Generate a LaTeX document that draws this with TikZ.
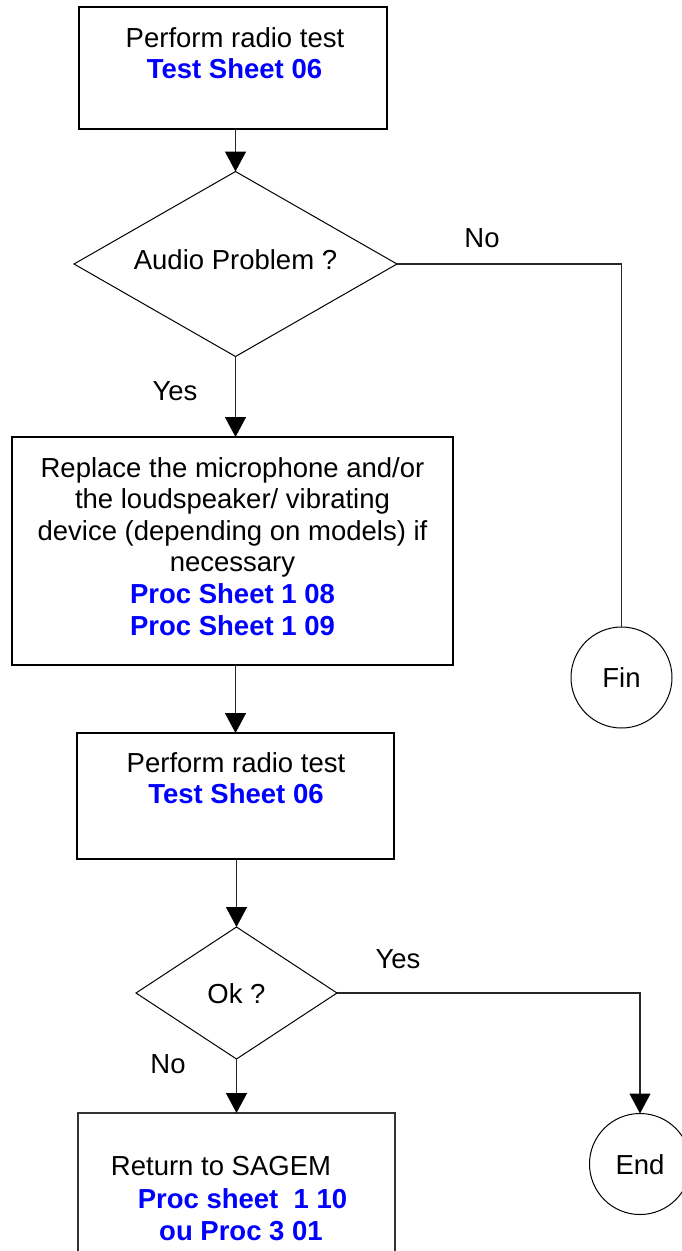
\documentclass[tikz,border=0pt]{standalone}
\usepackage{fontspec}
\setmainfont{Liberation Sans}
\usetikzlibrary{shapes.geometric,arrows.meta}
\definecolor{linkblue}{RGB}{0,0,255}
\begin{document}
\begin{tikzpicture}[x=1pt,y=-1pt,
  every node/.style={font=\fontsize{27.5}{31.6}\selectfont, inner sep=0pt, outer sep=0pt},
  procbox/.style={draw, line width=1.6pt, rectangle},
  decision/.style={draw, line width=1pt, diamond},
  terminal/.style={draw, line width=1pt, circle, minimum size=101pt, text height=20pt, text depth=0pt},
  txt/.style={anchor=base},
  ref/.style={anchor=base, font=\fontsize{27.5}{31.6}\selectfont\bfseries, text=linkblue},
  conn/.style={line width=1.3pt, draw=black!85},
  arr/.style={conn, -{Triangle[length=20pt,width=21pt,color=black,fill=black]}},
]
\useasboundingbox (0,0) rectangle (682,1251);

% boxes and decisions
\node[procbox, minimum width=308pt, minimum height=122pt] (b1) at (233,68) {};
\node[decision, minimum width=323pt, minimum height=185pt, aspect=1.75,
      text height=20pt, text depth=10pt] (d1) at (235.5,264) {Audio Problem ?};
\node[procbox, minimum width=441pt, minimum height=228pt] (b2) at (232.5,551) {};
\node[procbox, minimum width=317pt, minimum height=126pt] (b3) at (235.5,796) {};
\node[decision, minimum width=201pt, minimum height=132pt, aspect=1.52,
      text height=20pt, text depth=0pt] (d2) at (236.5,993) {Ok ?};
\node[procbox, line width=1.2pt, draw=black!80, minimum width=317pt, minimum height=187pt] (b4) at (236.5,1206.5) {};
\node[terminal] (fin) at (621.5,677.5) {Fin};
\node[terminal] (end) at (640,1164) {End};

% box texts
\node[txt] (t1a) at (235,47) {Perform radio test};
\node[ref] (t1b) at (234.5,78) {Test Sheet 06};

\node[txt] (t2a) at (232.5,477) {Replace the microphone and/or};
\node[txt] (t2b) at (232.5,508) {the loudspeaker/ vibrating};
\node[txt] (t2c) at (232.5,540) {device (depending on models) if};
\node[txt] (t2d) at (232.5,571) {necessary};
\node[ref] (t2e) at (232.5,603) {Proc Sheet 1 08};
\node[ref] (t2f) at (232.5,635) {Proc Sheet 1 09};

\node[txt] (t3a) at (236,772) {Perform radio test};
\node[ref] (t3b) at (236,803) {Test Sheet 06};

\node[txt] (t4a) at (221,1175) {Return to SAGEM};
\node[ref] (t4b) at (242.5,1208) {Proc sheet\ \ 1 10};
\node[ref] (t4c) at (241,1240) {ou Proc 3 01};

% connector labels
\node[txt] (lno1) at (482,247) {No};
\node[txt] (lyes1) at (175,400) {Yes};
\node[txt] (lyes2) at (398,968) {Yes};
\node[txt] (lno2) at (168,1073) {No};

% connectors
\draw[arr] (d1.north |- b1.south) -- (d1.north);
\draw[conn] (d1.east) -| (fin.north);
\draw[arr] (d1.south) -- (d1.south |- b2.north);
\draw[arr] (b2.south -| b3.north) -- (b3.north);
\draw[arr] (b3.south -| d2.north) -- (d2.north);
\draw[arr] (d2.south) -- (d2.south |- b4.north);
\draw[arr] (d2.east) -| (end.north);
\end{tikzpicture}
\end{document}
